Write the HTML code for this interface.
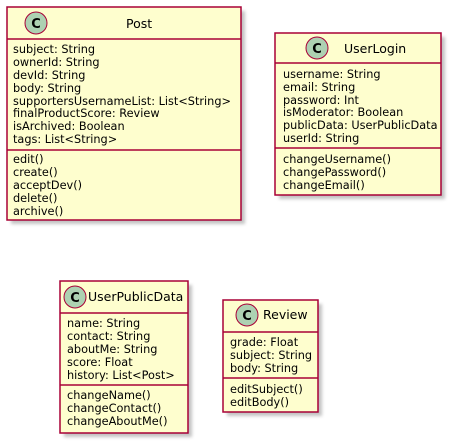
<!DOCTYPE html>
<html><head><meta charset="utf-8"><style>
html,body{margin:0;padding:0;background:#fff;}
svg{display:block;}
text{font-family:"DejaVu Sans","Liberation Sans",sans-serif;font-size:11.3px;fill:#000;}
.t{font-size:12.5px;}
.c{font-family:"DejaVu Sans","Liberation Sans",sans-serif;font-weight:bold;font-size:13px;}
</style></head><body>
<svg width="454" height="444" viewBox="0 0 454 444" xmlns="http://www.w3.org/2000/svg">
<defs><filter id="s" x="-10%" y="-10%" width="130%" height="130%"><feGaussianBlur stdDeviation="1.5"/></filter></defs>
<g>
<!-- Post -->
<rect x="11" y="11" width="234" height="213" fill="#888" opacity="0.5" filter="url(#s)"/>
<rect x="7" y="7" width="234" height="213" fill="#FEFECE" stroke="#A80036" stroke-width="1.5"/>
<line x1="7" y1="39" x2="241" y2="39" stroke="#A80036" stroke-width="1.5"/>
<line x1="7" y1="150" x2="241" y2="150" stroke="#A80036" stroke-width="1.5"/>
<circle cx="36" cy="23" r="11" fill="#ADD1B2" stroke="#A80036"/>
<text x="36" y="28" class="c" text-anchor="middle">C</text>
<text x="126" y="28" class="t">Post</text>
<text x="13" y="53">subject: String</text>
<text x="13" y="66">ownerId: String</text>
<text x="13" y="79">devId: String</text>
<text x="13" y="92">body: String</text>
<text x="13" y="105">supportersUsernameList: List&lt;String&gt;</text>
<text x="13" y="117">finalProductScore: Review</text>
<text x="13" y="130">isArchived: Boolean</text>
<text x="13" y="143">tags: List&lt;String&gt;</text>
<text x="13" y="163">edit()</text>
<text x="13" y="176">create()</text>
<text x="13" y="189">acceptDev()</text>
<text x="13" y="202">delete()</text>
<text x="13" y="215">archive()</text>

<!-- UserLogin -->
<rect x="279" y="37" width="166" height="162" fill="#888" opacity="0.5" filter="url(#s)"/>
<rect x="275" y="33" width="166" height="162" fill="#FEFECE" stroke="#A80036" stroke-width="1.5"/>
<line x1="275" y1="63" x2="441" y2="63" stroke="#A80036" stroke-width="1.5"/>
<line x1="275" y1="148" x2="441" y2="148" stroke="#A80036" stroke-width="1.5"/>
<circle cx="317" cy="48" r="11" fill="#ADD1B2" stroke="#A80036"/>
<text x="317" y="53" class="c" text-anchor="middle">C</text>
<text x="344" y="53" class="t">UserLogin</text>
<text x="283" y="78">username: String</text>
<text x="283" y="91">email: String</text>
<text x="283" y="104">password: Int</text>
<text x="283" y="116">isModerator: Boolean</text>
<text x="283" y="129">publicData: UserPublicData</text>
<text x="283" y="142">userId: String</text>
<text x="283" y="163">changeUsername()</text>
<text x="283" y="176">changePassword()</text>
<text x="283" y="189">changeEmail()</text>

<!-- UserPublicData -->
<rect x="64" y="285" width="128" height="152" fill="#888" opacity="0.5" filter="url(#s)"/>
<rect x="60" y="281" width="128" height="152" fill="#FEFECE" stroke="#A80036" stroke-width="1.5"/>
<line x1="60" y1="313" x2="188" y2="313" stroke="#A80036" stroke-width="1.5"/>
<line x1="60" y1="385" x2="188" y2="385" stroke="#A80036" stroke-width="1.5"/>
<circle cx="75" cy="297" r="11" fill="#ADD1B2" stroke="#A80036"/>
<text x="75" y="302" class="c" text-anchor="middle">C</text>
<text x="88" y="301" class="t">UserPublicData</text>
<text x="67" y="327">name: String</text>
<text x="67" y="340">contact: String</text>
<text x="67" y="353">aboutMe: String</text>
<text x="67" y="366">score: Float</text>
<text x="67" y="379">history: List&lt;Post&gt;</text>
<text x="67" y="399">changeName()</text>
<text x="67" y="412">changeContact()</text>
<text x="67" y="425">changeAboutMe()</text>

<!-- Review -->
<rect x="227" y="304" width="95" height="112" fill="#888" opacity="0.5" filter="url(#s)"/>
<rect x="223" y="300" width="95" height="112" fill="#FEFECE" stroke="#A80036" stroke-width="1.5"/>
<line x1="223" y1="332" x2="318" y2="332" stroke="#A80036" stroke-width="1.5"/>
<line x1="223" y1="378" x2="318" y2="378" stroke="#A80036" stroke-width="1.5"/>
<circle cx="247" cy="315" r="11" fill="#ADD1B2" stroke="#A80036"/>
<text x="247" y="320" class="c" text-anchor="middle">C</text>
<text x="263" y="319" class="t">Review</text>
<text x="230" y="346">grade: Float</text>
<text x="230" y="359">subject: String</text>
<text x="230" y="372">body: String</text>
<text x="230" y="393">editSubject()</text>
<text x="230" y="406">editBody()</text>
</g>
</svg>
</body></html>
